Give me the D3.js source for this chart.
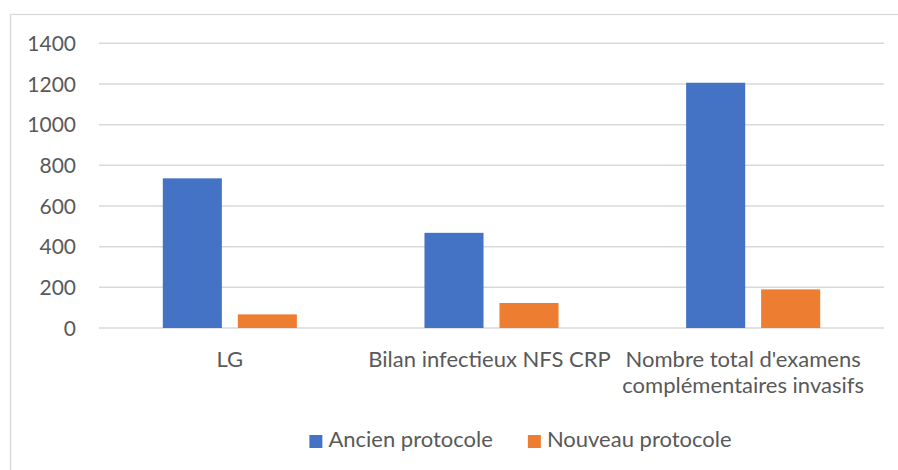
<!DOCTYPE html>
<html>
<head>
<meta charset="utf-8">
<script src="https://cdn.jsdelivr.net/npm/d3@7"></script>
<style>
  html, body { margin: 0; padding: 0; background: #fff; }
  svg text { font-family: "Lato", "Liberation Sans", sans-serif; fill: #595959; }
</style>
</head>
<body>
<div id="chart"></div>
<script>
// ── Data ─────────────────────────────────────────────────────────────────
const categories = ["LG", "Bilan infectieux NFS CRP", "Nombre total d'examens\ncomplémentaires invasifs"];
const seriesNames = ["Ancien protocole", "Nouveau protocole"];
const ancien = [736, 468, 1206];
const nouveau = [67, 123, 190];
const yTicks = [0, 200, 400, 600, 800, 1000, 1200, 1400];
const colors = ["#4472C4", "#ED7D31"];

(function () {
    const W = 898, H = 470;
    const plot = { left: 99, right: 884, top: 43.3, bottom: 328 };

    const svg = d3.select("#chart").append("svg").attr("width", W).attr("height", H);

    // chart area border (clipped on right / bottom like the source)
    svg.append("rect")
        .attr("x", 10.5).attr("y", 14.5)
        .attr("width", 1000).attr("height", 600)
        .attr("fill", "#fff").attr("stroke", "#d9d9d9").attr("stroke-width", 1.3);

    const y = d3.scaleLinear().domain([0, 1400]).range([plot.bottom, plot.top]);
    const x0 = d3.scaleBand().domain(d3.range(categories.length)).range([plot.left, plot.right]);

    // Excel style: gap width 216%, overlap -27%
    const band = x0.bandwidth();
    const barW = band / (2 + 0.27 + 2.16);
    const x1 = d3.scaleOrdinal().domain([0, 1])
        .range([band / 2 - barW * 1.135, band / 2 + barW * 0.135]);

    // gridlines
    svg.append("g").selectAll("line").data(yTicks).join("line")
        .attr("x1", plot.left).attr("x2", plot.right)
        .attr("y1", d => y(d)).attr("y2", d => y(d))
        .attr("stroke", "#d9d9d9").attr("stroke-width", 1.5);

    // y tick labels
    svg.append("g").selectAll("text").data(yTicks).join("text")
        .attr("x", 76).attr("y", d => y(d))
        .attr("dy", "0.36em")
        .attr("text-anchor", "end")
        .style("font-size", "21px")
        .text(d => d);

    // bars
    const seriesData = [ancien, nouveau];
    seriesData.forEach((vals, s) => {
        svg.append("g").selectAll("rect").data(vals).join("rect")
            .attr("x", (d, i) => x0(i) + x1(s))
            .attr("width", barW)
            .attr("y", d => y(d))
            .attr("height", d => y(0) - y(d))
            .attr("fill", colors[s]);
    });

    // category labels
    const catG = svg.append("g");
    categories.forEach((c, i) => {
        const t = catG.append("text")
            .attr("x", x0(i) + band / 2 - (i === 1 ? 2 : i === 2 ? 10 : 0))
            .attr("y", 367)
            .attr("text-anchor", "middle")
            .style("font-size", "22px");
        c.split("\n").forEach((line, k) => {
            t.append("tspan")
                .attr("x", t.attr("x"))
                .attr("dy", k === 0 ? 0 : 26)
                .text(line);
        });
    });

    // legend
    const legend = svg.append("g");
    const items = legend.selectAll("g").data(seriesNames).join("g");
    items.append("rect")
        .attr("y", 435).attr("width", 13).attr("height", 13)
        .attr("fill", (d, i) => colors[i]);
    items.append("text")
        .attr("x", 19).attr("y", 447)
        .style("font-size", "22px")
        .text(d => d);
    let cx = 0;
    items.each(function () {
        const w = this.getBBox().width;
        d3.select(this).attr("transform", `translate(${cx},0)`);
        cx += w + 35;
    });
    const total = cx - 35;
    legend.attr("transform", `translate(${520.5 - total / 2},0)`);
})();
</script>
</body>
</html>
